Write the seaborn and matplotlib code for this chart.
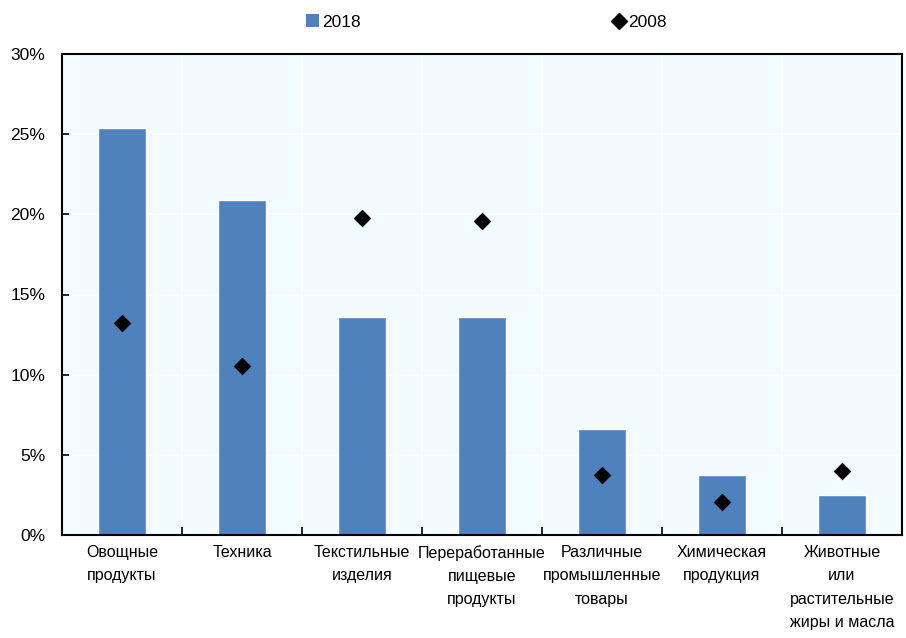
import matplotlib
matplotlib.use("Agg")
import matplotlib.pyplot as plt
import matplotlib.font_manager as fm
from matplotlib.lines import Line2D
from matplotlib.patches import Patch
from matplotlib.ticker import FixedLocator, PercentFormatter
import seaborn as sns
import pandas as pd

categories = ["Овощные\nпродукты", "Техника", "Текстильные\nизделия",
              "Переработанные\nпищевые\nпродукты", "Различные\nпромышленные\nтовары",
              "Химическая\nпродукция", "Животные\nили\nрастительные\nжиры и масла"]
values_2018 = [25.4, 20.9, 13.6, 13.6, 6.6, 3.75, 2.5]
values_2008 = [13.25, 10.55, 19.75, 19.6, 3.75, 2.06, 4.0]

sns.set_theme(style="white")
names = {f.name for f in fm.fontManager.ttflist}
fam = [f for f in ["Liberation Sans Narrow", "Liberation Sans", "DejaVu Sans"] if f in names]
plt.rcParams["font.family"] = fam
plt.rcParams["text.color"] = "black"
plt.rcParams["xtick.color"] = "black"
plt.rcParams["ytick.color"] = "black"

df = pd.DataFrame({"cat": categories, "v2018": values_2018, "v2008": values_2008})

fig = plt.figure(figsize=(9.06, 6.38), dpi=100)
ax = fig.add_axes([62/906, 1 - 535/638, (902-62)/906, (535-54)/638])
ax.set_facecolor("#F2FBFF")

blue = "#4F81BD"
sns.barplot(data=df, x="cat", y="v2018", color=blue, width=0.4, ax=ax, zorder=2,
            saturation=1)
sns.stripplot(data=df, x="cat", y="v2008", color="black", marker="D", size=9,
              jitter=False, ax=ax, zorder=3)

ax.set_xlim(-0.5, 6.5)
ax.set_ylim(0, 30)
ax.set_yticks(range(0, 31, 5))
ax.yaxis.set_major_formatter(PercentFormatter(decimals=0))
ax.set_xlabel("")
ax.set_ylabel("")
ax.xaxis.set_minor_locator(FixedLocator([i + 0.5 for i in range(6)]))
ax.grid(axis="y", which="major", color="white", lw=1.3, zorder=1)
ax.grid(axis="x", which="minor", color="white", lw=1.3, zorder=1)
ax.grid(axis="x", which="major", visible=False)
ax.set_axisbelow(True)

ax.tick_params(axis="x", which="major", length=0, labelsize=11.5, pad=7, labelcolor="black")
ax.tick_params(axis="x", which="minor", direction="in", length=6, width=1.2, color="black", bottom=True)
ax.tick_params(axis="y", direction="in", length=5, width=1.2, color="black", left=True,
               labelsize=12.5, pad=12, labelcolor="black")
for s in ax.spines.values():
    s.set_color("black")
    s.set_linewidth(1.5)
for lab in ax.get_xticklabels():
    lab.set_linespacing(1.7)

handles = [Patch(facecolor=blue, edgecolor="none"),
           Line2D([], [], marker="D", color="black", linestyle="none", markersize=8)]
fig.legend(handles, ["2018", "2008"], loc="center", bbox_to_anchor=(0.537, 1 - 22/638),
           ncol=2, frameon=False, fontsize=12.5, columnspacing=14.5, handlelength=0.7,
           handletextpad=0.2, handleheight=0.7, labelcolor="black")

fig.savefig("out.png", dpi=100)
